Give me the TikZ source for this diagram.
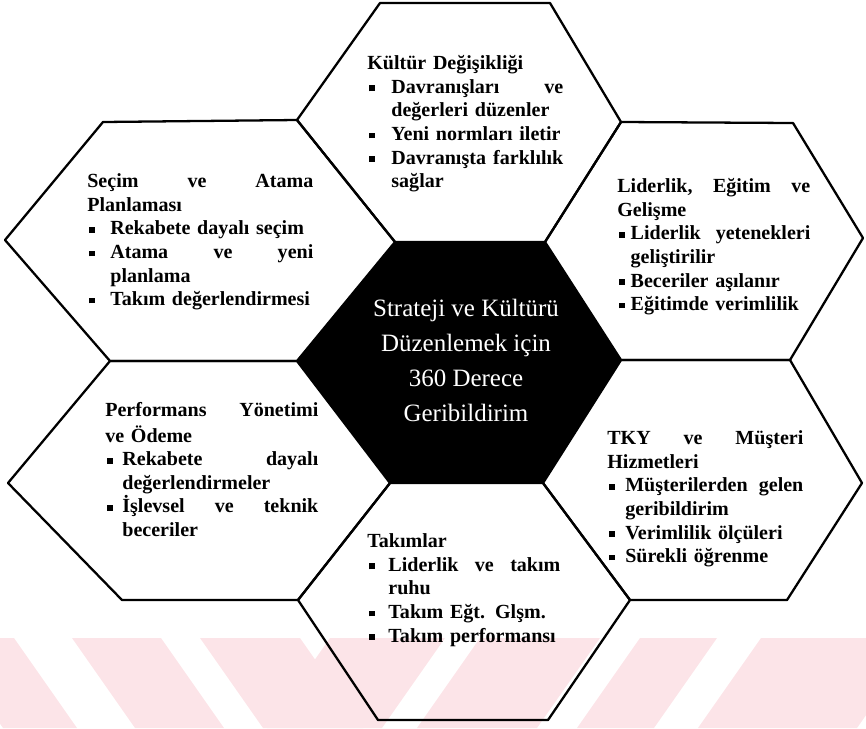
\documentclass[tikz,border=0pt]{standalone}
\usepackage{fontspec}
\setmainfont{Liberation Serif}
\usepackage{tikz}
\usepackage{xcolor}
\definecolor{wmpink}{RGB}{252,228,232}
\newcommand{\bul}[1]{\makebox[#1][l]{\hspace{1.2pt}\rule[1.2pt]{3.3pt}{3.3pt}}}
\newcommand{\cnt}[1]{\hspace*{#1}}
\tikzset{hexlabel/.style={anchor=north west, align=left, font=\bfseries\fontsize{11.4}{13.4}\selectfont}}

\begin{document}
\begin{tikzpicture}[scale=0.2]
              \tikzstyle{every node}+=[inner sep=0pt]
              \useasboundingbox (0,0) rectangle (86.6,-72.8);
              \begin{scope}
              \clip (0,-63.8) rectangle (86.6,-72.8);
              \foreach \a/\b in {-6/1.4,7.2/16.1,20/30}
                \fill [wmpink] (\a,-63.8) -- (\b,-63.8) -- (\b+6.3,-72.8) -- (\a+6.3,-72.8) -- cycle;
              \foreach \a/\b in {33/44.5,48/60,64/71.7,76.1/92}
                \fill [wmpink] (\a,-63.8) -- (\b,-63.8) -- (\b-6.3,-72.8) -- (\a-6.3,-72.8) -- cycle;
              \end{scope}
              \fill [black] (39.5,-24.2) -- (54.5,-24.2) -- (62.1,-36.0) -- (54.3,-48.3) -- (39.0,-48.3) -- (29.7,-36.0) -- cycle;
              \draw [black, line width=1.3pt, line join=round] (38.0,-0.3) -- (55.0,-0.3) -- (62.1,-12.2) -- (54.5,-24.2) -- (39.5,-24.2) -- (29.7,-12.0) -- cycle;
              \draw [black, line width=1.3pt, line join=round] (10.3,-12.2) -- (29.7,-12.0) -- (39.5,-24.2) -- (29.7,-36.1) -- (11.0,-36.1) -- (0.5,-24.0) -- cycle;
              \draw [black, line width=1.3pt, line join=round] (62.1,-12.2) -- (79.3,-12.3) -- (86.3,-23.8) -- (79.0,-36.0) -- (62.1,-36.0) -- (54.5,-24.2) -- cycle;
              \draw [black, line width=1.3pt, line join=round] (11.0,-36.1) -- (29.7,-36.1) -- (39.0,-48.3) -- (29.8,-60.0) -- (12.2,-60.0) -- (0.8,-48.3) -- cycle;
              \draw [black, line width=1.3pt, line join=round] (62.1,-36.0) -- (79.0,-36.0) -- (86.2,-48.3) -- (78.7,-60.0) -- (63.0,-60.0) -- (54.3,-48.3) -- cycle;
              \draw [black, line width=1.3pt, line join=round] (39.0,-48.3) -- (54.3,-48.3) -- (63.0,-60.0) -- (54.8,-72.0) -- (37.8,-72.0) -- (29.8,-60.0) -- cycle;
              \node [text=white, align=center, font=\fontsize{14.2}{19.9}\selectfont] (merkez) at (46.6,-36.0)
                {Strateji ve Kültürü\\Düzenlemek için\\360 Derece\\Geribildirim};
              \node [hexlabel, text width=3.92cm] (kultur) at (36.7,-5.3)
                {\strut Kültür Değişikliği\\
                 \bul{13.7pt}Davranışları \hfill ve\\
                 \cnt{13.7pt}değerleri düzenler\\
                 \bul{13.7pt}Yeni normları iletir\\
                 \bul{13.7pt}Davranışta \hfill farklılık\\
                 \cnt{13.7pt}sağlar};
              \node [hexlabel, text width=4.52cm] (secim) at (8.7,-17.1)
                {\strut Seçim \hfill ve \hfill Atama\\
                 Planlaması\\
                 \bul{13.1pt}Rekabete dayalı seçim\\
                 \bul{13.1pt}Atama \hfill ve \hfill yeni\\
                 \cnt{13.1pt}planlama\\
                 \bul{13.1pt}Takım değerlendirmesi};
              \node [hexlabel, text width=3.86cm] (liderlik) at (61.7,-17.6)
                {\strut Liderlik, \hfill Eğitim \hfill ve\\
                 Gelişme\\
                 \bul{7.6pt}Liderlik \hfill yetenekleri\\
                 \cnt{7.6pt}geliştirilir\\
                 \bul{7.6pt}Beceriler aşılanır\\
                 \bul{7.6pt}Eğitimde verimlilik};
              \node [hexlabel, text width=4.26cm] (performans) at (10.5,-40.0)
                {\strut Performans \hfill Yönetimi\\
                 ve Ödeme\\
                 \bul{9.7pt}Rekabete \hfill dayalı\\
                 \cnt{9.7pt}değerlendirmeler\\
                 \bul{9.7pt}İşlevsel \hfill ve \hfill teknik\\
                 \cnt{9.7pt}beceriler};
              \node [hexlabel, text width=3.92cm] (tky) at (60.7,-42.8)
                {\strut TKY \hfill ve \hfill Müşteri\\
                 Hizmetleri\\
                 \bul{10.2pt}Müşterilerden \hfill gelen\\
                 \cnt{10.2pt}geribildirim\\
                 \bul{10.2pt}Verimlilik ölçüleri\\
                 \bul{10.2pt}Sürekli öğrenme};
              \node [hexlabel, text width=3.86cm] (takimlar) at (36.7,-53.1)
                {\strut Takımlar\\
                 \bul{12pt}Liderlik \hfill ve \hfill takım\\
                 \cnt{12pt}ruhu\\
                 \bul{12pt}Takım Eğt. Glşm.\\
                 \bul{12pt}Takım performansı};
            \end{tikzpicture}
\end{document}
